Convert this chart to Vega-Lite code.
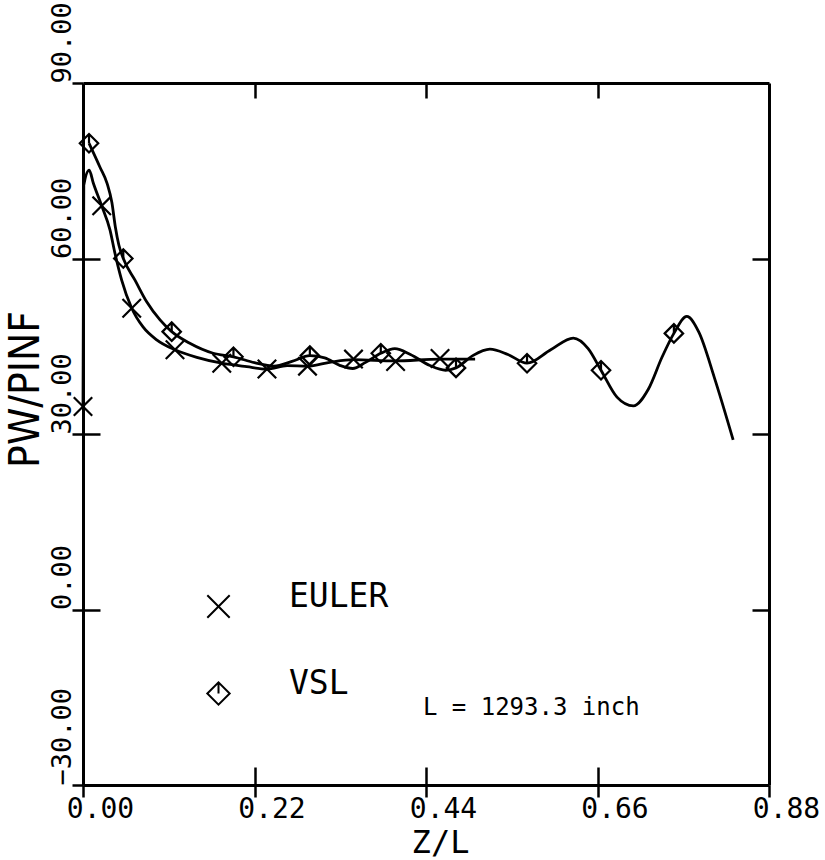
{
  "$schema": "https://vega.github.io/schema/vega-lite/v6.json",
  "width": 686,
  "height": 702,
  "autosize": "none",
  "padding": {"left": 83, "top": 83, "right": 56, "bottom": 75},
  "background": "white",
  "config": {
    "view": {"stroke": null},
    "font": "DejaVu Sans Mono",
    "axis": {
      "grid": false,
      "domainColor": "black",
      "tickColor": "black",
      "labelColor": "black",
      "titleColor": "black",
      "domainWidth": 3,
      "tickWidth": 2.5,
      "labelFont": "DejaVu Sans Mono",
      "titleFont": "DejaVu Sans Mono",
      "titleFontWeight": "normal"
    }
  },
  "datasets": {
    "curves": [
      {"series": "EULER", "z": 0, "v": 34.7},
      {"series": "EULER", "z": 0.001, "v": 72.5},
      {"series": "EULER", "z": 0.008, "v": 75.1},
      {"series": "EULER", "z": 0.0132, "v": 72.9},
      {"series": "EULER", "z": 0.024, "v": 69.0},
      {"series": "EULER", "z": 0.0346, "v": 64.9},
      {"series": "EULER", "z": 0.041, "v": 60.9},
      {"series": "EULER", "z": 0.0496, "v": 56.3},
      {"series": "EULER", "z": 0.0625, "v": 51.5},
      {"series": "EULER", "z": 0.077, "v": 48.3},
      {"series": "EULER", "z": 0.0945, "v": 46.1},
      {"series": "EULER", "z": 0.118, "v": 44.4},
      {"series": "EULER", "z": 0.146, "v": 43.1},
      {"series": "EULER", "z": 0.178, "v": 42.1},
      {"series": "EULER", "z": 0.21, "v": 41.5},
      {"series": "EULER", "z": 0.236, "v": 41.1},
      {"series": "EULER", "z": 0.262, "v": 41.7},
      {"series": "EULER", "z": 0.288, "v": 41.6},
      {"series": "EULER", "z": 0.318, "v": 42.3},
      {"series": "EULER", "z": 0.347, "v": 42.7},
      {"series": "EULER", "z": 0.4, "v": 42.5},
      {"series": "EULER", "z": 0.458, "v": 42.8},
      {"series": "EULER", "z": 0.503, "v": 42.8},
      {"series": "VSL", "z": 0.0077, "v": 79.7},
      {"series": "VSL", "z": 0.0218, "v": 75.6},
      {"series": "VSL", "z": 0.031, "v": 72.8},
      {"series": "VSL", "z": 0.037, "v": 69.6},
      {"series": "VSL", "z": 0.0415, "v": 65.4},
      {"series": "VSL", "z": 0.046, "v": 62.3},
      {"series": "VSL", "z": 0.0517, "v": 60.0},
      {"series": "VSL", "z": 0.0667, "v": 56.3},
      {"series": "VSL", "z": 0.0817, "v": 52.6},
      {"series": "VSL", "z": 0.0988, "v": 49.5},
      {"series": "VSL", "z": 0.1138, "v": 47.5},
      {"series": "VSL", "z": 0.137, "v": 45.5},
      {"series": "VSL", "z": 0.167, "v": 43.8},
      {"series": "VSL", "z": 0.193, "v": 43.2},
      {"series": "VSL", "z": 0.22, "v": 42.2},
      {"series": "VSL", "z": 0.245, "v": 41.6},
      {"series": "VSL", "z": 0.268, "v": 42.4},
      {"series": "VSL", "z": 0.291, "v": 43.4},
      {"series": "VSL", "z": 0.31, "v": 43.0},
      {"series": "VSL", "z": 0.33, "v": 41.7},
      {"series": "VSL", "z": 0.346, "v": 41.2},
      {"series": "VSL", "z": 0.362, "v": 42.2},
      {"series": "VSL", "z": 0.382, "v": 43.8},
      {"series": "VSL", "z": 0.4, "v": 44.6},
      {"series": "VSL", "z": 0.42, "v": 43.6},
      {"series": "VSL", "z": 0.445, "v": 41.7},
      {"series": "VSL", "z": 0.465, "v": 40.9},
      {"series": "VSL", "z": 0.4785, "v": 41.3},
      {"series": "VSL", "z": 0.5, "v": 43.4},
      {"series": "VSL", "z": 0.522, "v": 44.5},
      {"series": "VSL", "z": 0.545, "v": 43.6},
      {"series": "VSL", "z": 0.5696, "v": 42.1},
      {"series": "VSL", "z": 0.6, "v": 44.4},
      {"series": "VSL", "z": 0.629, "v": 46.4},
      {"series": "VSL", "z": 0.648, "v": 44.6},
      {"series": "VSL", "z": 0.6645, "v": 40.9},
      {"series": "VSL", "z": 0.685, "v": 36.3},
      {"series": "VSL", "z": 0.706, "v": 34.8},
      {"series": "VSL", "z": 0.725, "v": 37.6},
      {"series": "VSL", "z": 0.743, "v": 43.2},
      {"series": "VSL", "z": 0.758, "v": 47.2},
      {"series": "VSL", "z": 0.7745, "v": 50.1},
      {"series": "VSL", "z": 0.79, "v": 47.4},
      {"series": "VSL", "z": 0.81, "v": 39.6},
      {"series": "VSL", "z": 0.834, "v": 29.0}
    ],
    "markers": [
      {"series": "EULER", "z": 0, "v": 34.7},
      {"series": "EULER", "z": 0.024, "v": 69.0},
      {"series": "EULER", "z": 0.0625, "v": 51.5},
      {"series": "EULER", "z": 0.118, "v": 44.4},
      {"series": "EULER", "z": 0.178, "v": 42.1},
      {"series": "EULER", "z": 0.236, "v": 41.1},
      {"series": "EULER", "z": 0.288, "v": 41.6},
      {"series": "EULER", "z": 0.347, "v": 42.8},
      {"series": "EULER", "z": 0.401, "v": 42.4},
      {"series": "EULER", "z": 0.458, "v": 42.9},
      {"series": "VSL", "z": 0.0077, "v": 79.7},
      {"series": "VSL", "z": 0.0517, "v": 60.0},
      {"series": "VSL", "z": 0.1138, "v": 47.5},
      {"series": "VSL", "z": 0.193, "v": 43.2},
      {"series": "VSL", "z": 0.291, "v": 43.4},
      {"series": "VSL", "z": 0.382, "v": 43.8},
      {"series": "VSL", "z": 0.4785, "v": 41.3},
      {"series": "VSL", "z": 0.5696, "v": 42.1},
      {"series": "VSL", "z": 0.6645, "v": 40.9},
      {"series": "VSL", "z": 0.758, "v": 47.2}
    ]
  },
  "layer": [
    {
      "data": {"name": "curves"},
      "mark": {"type": "line", "interpolate": "monotone", "strokeWidth": 2.8, "color": "black"},
      "encoding": {
        "x": {
          "field": "z", "type": "quantitative",
          "scale": {"domain": [0, 0.88], "nice": false, "zero": false},
          "axis": {
            "orient": "bottom", "values": [0, 0.22, 0.44, 0.66, 0.88], "format": ".2f",
            "tickSize": 12, "labelFontSize": 28, "labelPadding": -2, "labelAlign": "center",
            "labelOffset": 17, "labelBaseline": "top", "labelFlush": false, "labelOverlap": false,
            "title": "Z/L", "titleFontSize": 32, "titleX": 357, "titleY": 74,
            "titleBaseline": "bottom", "titleAlign": "center"
          }
        },
        "y": {
          "field": "v", "type": "quantitative",
          "scale": {"domain": [-30, 90], "nice": false, "zero": false},
          "axis": {
            "orient": "left", "values": [-30, 0, 30, 60, 90], "format": ".2f",
            "tickSize": 11, "labelAngle": -90, "labelAlign": "left", "labelBaseline": "alphabetic",
            "labelPadding": 2, "labelFontSize": 27, "labelFlush": false, "labelOverlap": false,
            "title": "PW/PINF", "titleFont": "DejaVu Sans Condensed, DejaVu Sans Mono",
            "titleFontSize": 42, "titleAngle": -90, "titleX": -45, "titleY": 306,
            "titleAlign": "center", "titleBaseline": "alphabetic"
          }
        },
        "detail": {"field": "series"}
      }
    },
    {
      "data": {"name": "markers"},
      "mark": {"type": "point", "filled": false, "strokeWidth": 2.2, "color": "black", "opacity": 1},
      "encoding": {
        "x": {
          "field": "z", "type": "quantitative",
          "axis": {"orient": "bottom", "values": [0.22, 0.44, 0.66], "tickSize": -18, "labels": false, "domain": false, "title": null}
        },
        "y": {
          "field": "v", "type": "quantitative",
          "axis": {"orient": "left", "values": [0, 30, 60], "tickSize": -17, "labels": false, "domain": false, "title": null}
        },
        "shape": {
          "field": "series", "type": "nominal",
          "scale": {"domain": ["EULER", "VSL"], "range": ["M-1,-1L1,1M1,-1L-1,1", "M-1,0L0,-1L1,0L0,1ZM0,-1L0,0"]},
          "legend": {
            "orient": "none", "legendX": 119, "legendY": 507, "title": null,
            "labelFontSize": 33, "labelFont": "DejaVu Sans Mono", "labelColor": "black",
            "symbolSize": 500, "symbolStrokeWidth": 2, "symbolStrokeColor": "black",
            "symbolFillColor": "transparent", "labelOffset": 54, "rowPadding": 45,
            "labelBaseline": "alphabetic", "padding": 0
          }
        },
        "size": {"value": 340}
      }
    },
    {
      "data": {"values": [{}]},
      "mark": {"type": "text", "align": "left", "baseline": "alphabetic", "fontSize": 24, "font": "DejaVu Sans Mono", "color": "black"},
      "encoding": {
        "x": {
          "datum": 0.436, "type": "quantitative",
          "axis": {"orient": "top", "values": [0.22, 0.44, 0.66], "tickSize": -15, "labels": false, "domain": true, "title": null}
        },
        "y": {
          "datum": -18, "type": "quantitative",
          "axis": {"orient": "right", "values": [0, 30, 60], "tickSize": -17, "labels": false, "domain": true, "title": null}
        },
        "text": {"value": "L = 1293.3 inch"}
      }
    }
  ],
  "resolve": {"axis": {"x": "independent", "y": "independent"}}
}
